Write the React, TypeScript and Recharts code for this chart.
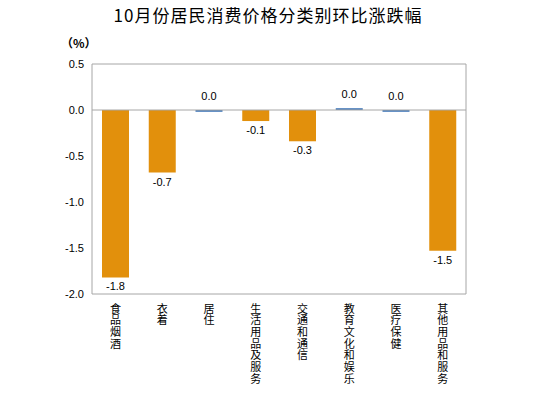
import React from 'react';
import {
  BarChart,
  Bar,
  XAxis,
  YAxis,
  Cell,
  LabelList,
  ReferenceLine,
  ReferenceArea,
} from 'recharts';

const categories = ['食品烟酒', '衣着', '居住', '生活用品及服务', '交通和通信', '教育文化和娱乐', '医疗保健', '其他用品和服务'];
const values = [-1.82, -0.68, -0.02, -0.12, -0.34, 0.02, -0.02, -1.53];
const valueLabels = ['-1.8', '-0.7', '0.0', '-0.1', '-0.3', '0.0', '0.0', '-1.5'];
const yTicks = [-2.0, -1.5, -1.0, -0.5, 0.0, 0.5];

const data = categories.map((name, i) => ({ name, value: values[i], label: valueLabels[i] }));

const ORANGE = '#E2900C';
const BLUE = '#4A7EBB';
const GRAY = '#A6A6A6';
const FONT = '"Liberation Sans", Arial, sans-serif';
const CJK = '"Noto Sans CJK SC", sans-serif';

// category names run top to bottom
const VerticalTick = (props: any) => {
  const { x, y, payload } = props;
  return (
    <text
      x={x}
      y={y + 1}
      fontSize={11}
      fontFamily={CJK}
      fill="#000"
      letterSpacing={0.7}
      style={{ writingMode: 'vertical-rl' }}
    >
      {payload.value}
    </text>
  );
};

const ValueLabel = (props: any) => {
  const { x, y, width, height, index } = props;
  const top = Math.min(y, y + height);
  const bottom = Math.max(y, y + height);
  const nearZero = Math.abs(values[index]) < 0.05;
  const ty = nearZero ? top - 14 : bottom + 9;
  return (
    <text x={x + width / 2} y={ty} dy={4} textAnchor="middle" fontSize={11} fontFamily={FONT} fill="#000">
      {valueLabels[index]}
    </text>
  );
};

const App: React.FC = () => {
  return (
    <div style={{ position: 'absolute', left: 0, top: 0, width: 540, height: 396, background: '#fff' }}>
      <div
        style={{
          position: 'absolute',
          left: 0,
          width: 536,
          top: 4,
          textAlign: 'center',
          fontFamily: CJK,
          fontSize: 17,
          letterSpacing: 1,
          color: '#000',
          lineHeight: '22px',
        }}
      >
        10月份居民消费价格分类别环比涨跌幅
      </div>
      <div
        style={{
          position: 'absolute',
          left: 61,
          top: 35,
          fontFamily: CJK,
          fontSize: 12,
          fontWeight: 'bold',
          color: '#000',
          lineHeight: '16px',
        }}
      >
        （%）
      </div>
      <BarChart
        width={540}
        height={396}
        data={data}
        margin={{ top: 64, right: 74, left: 0, bottom: 0 }}
        barSize={27}
      >
        <ReferenceArea y1={-2} y2={0.5} fill="none" stroke={GRAY} strokeWidth={1} ifOverflow="visible" />
        <XAxis
          dataKey="name"
          height={102}
          axisLine={false}
          tickLine={false}
          interval={0}
          tick={<VerticalTick />}
        />
        <YAxis
          width={92}
          domain={[-2, 0.5]}
          ticks={yTicks}
          axisLine={false}
          tickLine={false}
          allowDataOverflow
          tickFormatter={(v: number) => v.toFixed(1)}
          tick={{ fontSize: 11, fontFamily: FONT, fill: '#000' }}
        />
        <ReferenceLine y={0} stroke={GRAY} strokeWidth={1} />
        <Bar dataKey="value" isAnimationActive={false}>
          {data.map((d, i) => (
            <Cell key={i} fill={Math.abs(d.value) < 0.05 ? BLUE : ORANGE} />
          ))}
          <LabelList dataKey="label" content={<ValueLabel />} />
        </Bar>
      </BarChart>
    </div>
  );
};

export default App;
